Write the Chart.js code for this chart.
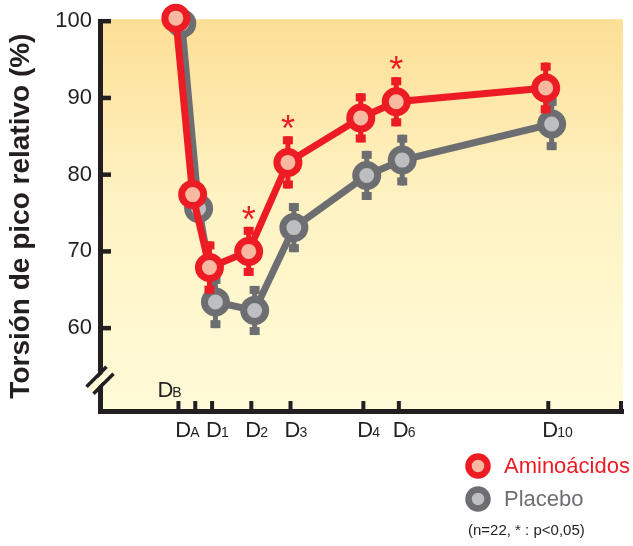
<!DOCTYPE html>
<html>
<head>
<meta charset="utf-8">
<script src="https://cdn.jsdelivr.net/npm/chart.js@4/dist/chart.umd.min.js"></script>
<style>
  html, body { margin: 0; padding: 0; background: #fff; }
  #wrap { width: 633px; height: 546px; }
</style>
</head>
<body>
<div id="wrap"><canvas id="out" width="633" height="546"></canvas></div>
<script>
// days on the x axis (schematic positions) and their labels
const dayMain = "D";
const daySub = ["B", "A", "1", "2", "3", "4", "6", "10"];
const xPos = [2.1, 2.55, 3, 4.05, 5.1, 7.05, 8, 12];

// peak torque relative to baseline (%)
const amino = [100.4, 77.4, 67.9, 70.0, 81.6, 87.4, 89.5, 91.3];
const aminoErr = [0, 1.5, 3.4, 3.2, 3.4, 3.2, 3.2, 3.3];
const placebo = [99.7, 75.6, 63.4, 62.3, 73.1, 79.9, 81.9, 86.6];
const placeboErr = [0, 1.5, 3.4, 3.2, 3.2, 3.2, 3.3, 3.4];
const significant = [false, false, false, true, true, false, true, false];

const yTicks = [60, 70, 80, 90, 100];
const seriesNames = ["Aminoácidos", "Placebo"];
const footnote = "(n=22, * : p<0,05)";

const RED = "#ed1c24", SALMON = "#f8b9a0";
const GREY = "#6d6e71", LIGHTGREY = "#bcbec0";
const INK = "#231f20";
const FONT = "'Liberation Sans', Arial, Helvetica, sans-serif";

const toPoints = (vals, shift) => vals.map((v, i) => ({ x: xPos[i] + shift, y: v }));

// background gradient in the plot area
const bgPlugin = {
  id: "bg",
  beforeDraw(chart) {
    const { ctx, chartArea: a } = chart;
    const g = ctx.createLinearGradient(0, a.top, 0, a.bottom);
    g.addColorStop(0, "#fddf96");
    g.addColorStop(0.45, "#fef2c2");
    g.addColorStop(1, "#fffbd8");
    ctx.save();
    ctx.fillStyle = g;
    ctx.fillRect(a.left, a.top - 2, a.right - a.left, a.bottom - a.top + 2);
    ctx.restore();
  }
};

// error bars, drawn under each dataset's own line
const errPlugin = {
  id: "errbars",
  beforeDatasetDraw(chart, args) {
    const ds = chart.data.datasets[args.index];
    const meta = args.meta;
    const ys = chart.scales.y;
    const ctx = chart.ctx;
    ctx.save();
    ctx.strokeStyle = ds.borderColor;
    ctx.fillStyle = ds.borderColor;
    ctx.lineWidth = 5;
    meta.data.forEach((pt, i) => {
      const e = ds.err[i];
      if (!e) return;
      const v = ds.data[i].y;
      const top = ys.getPixelForValue(v + e);
      const bot = ys.getPixelForValue(v - e);
      ctx.beginPath();
      ctx.moveTo(pt.x, top);
      ctx.lineTo(pt.x, bot);
      ctx.stroke();
      ctx.fillRect(pt.x - 5, top, 10, 8);
      ctx.fillRect(pt.x - 5, bot - 8, 10, 8);
    });
    ctx.restore();
  }
};

// ticks, labels, axis break, asterisks, legend
const decoPlugin = {
  id: "deco",
  afterDraw(chart) {
    const { ctx, chartArea: a } = chart;
    const xs = chart.scales.x, ys = chart.scales.y;
    ctx.save();
    ctx.fillStyle = INK;
    ctx.strokeStyle = INK;

    // inward y ticks
    ctx.lineWidth = 4.5;
    yTicks.forEach(t => {
      const y = ys.getPixelForValue(t);
      ctx.beginPath();
      ctx.moveTo(a.left, y);
      ctx.lineTo(a.left + 11, y);
      ctx.stroke();
    });

    // inward x ticks + right end tick
    ctx.lineWidth = 4;
    const xt = xPos.map(p => xs.getPixelForValue(p)).concat([a.right - 2]);
    xt.forEach(x => {
      ctx.beginPath();
      ctx.moveTo(x, a.bottom);
      ctx.lineTo(x, a.bottom - 10);
      ctx.stroke();
    });

    // x labels "D" + small suffix
    ctx.textBaseline = "alphabetic";
    ctx.textAlign = "left";
    daySub.forEach((s, i) => {
      const tx = xs.getPixelForValue(xPos[i]);
      let lx = tx - 6, ly = a.bottom + 26;
      if (i === 0) { lx = tx - 21; ly = a.bottom - 14; }
      if (i === 1) { lx = tx - 20; }
      ctx.font = "22px " + FONT;
      ctx.fillText(dayMain, lx, ly);
      const w = ctx.measureText(dayMain).width;
      ctx.font = "14px " + FONT;
      ctx.fillText(s, lx + w - 1, ly);
    });

    // axis break
    const by = ys.getPixelForValue(53.2);
    const bx = a.left;
    const seg = (off, color, lw) => {
      ctx.strokeStyle = color;
      ctx.lineWidth = lw;
      ctx.beginPath();
      ctx.moveTo(bx - 10 + off, by + 10 + off);
      ctx.lineTo(bx + 10 + off, by - 10 + off);
      ctx.stroke();
    };
    seg(0, "#fffbd8", 6);
    seg(-3.5, INK, 3.5);
    seg(3.5, INK, 3.5);

    // significance asterisks
    ctx.fillStyle = RED;
    ctx.font = "36px " + FONT;
    ctx.textAlign = "center";
    const am = chart.getDatasetMeta(0);
    significant.forEach((s, i) => {
      if (!s) return;
      const yTop = ys.getPixelForValue(amino[i] + aminoErr[i]);
      ctx.fillText("*", am.data[i].x, yTop + 5);
    });

    // legend
    const items = [
      { name: seriesNames[0], line: RED, fill: SALMON, y: 466 },
      { name: seriesNames[1], line: GREY, fill: LIGHTGREY, y: 499 }
    ];
    ctx.textAlign = "left";
    ctx.textBaseline = "middle";
    items.forEach(it => {
      ctx.beginPath();
      ctx.arc(478, it.y, 9.5, 0, Math.PI * 2);
      ctx.fillStyle = it.fill;
      ctx.fill();
      ctx.lineWidth = 6.5;
      ctx.strokeStyle = it.line;
      ctx.stroke();
      ctx.fillStyle = it.line;
      ctx.font = "22px " + FONT;
      ctx.fillText(it.name, 504, it.y + 1);
    });
    ctx.fillStyle = INK;
    ctx.font = "15px " + FONT;
    ctx.fillText(footnote, 468, 531);
    ctx.restore();
  }
};

const canvasCtx = document.getElementById("out").getContext("2d");

const chartConfig = {
  type: "line",
  data: {
    datasets: [
      {
        label: seriesNames[0],
        data: toPoints(amino, -0.07),
        err: aminoErr,
        borderColor: RED,
        backgroundColor: SALMON,
        pointBackgroundColor: SALMON,
        pointBorderColor: RED,
        borderWidth: 7,
        pointRadius: 11,
        pointBorderWidth: 7,
        clip: false
      },
      {
        label: seriesNames[1],
        data: toPoints(placebo, 0.09),
        err: placeboErr,
        borderColor: GREY,
        backgroundColor: LIGHTGREY,
        pointBackgroundColor: LIGHTGREY,
        pointBorderColor: GREY,
        borderWidth: 7,
        pointRadius: 11,
        pointBorderWidth: 7,
        clip: false
      }
    ]
  },
  options: {
    responsive: false,
    animation: false,
    events: [],
    layout: { autoPadding: false, padding: { top: 20, right: 10, bottom: 135, left: 0 } },
    plugins: { legend: { display: false }, tooltip: { enabled: false } },
    scales: {
      x: {
        type: "linear",
        min: 0,
        max: 14,
        grid: { display: false, drawTicks: false },
        ticks: { display: false },
        border: { display: true, width: 5, color: INK },
        afterFit(scale) { scale.height = 0; }
      },
      y: {
        min: 49.2,
        max: 100,
        afterBuildTicks(scale) { scale.ticks = yTicks.map(v => ({ value: v })); },
        grid: { display: false, drawTicks: false },
        border: { display: true, width: 5, color: INK },
        ticks: {
          color: INK,
          padding: 8,
          font: { family: FONT, size: 22 }
        },
        title: {
          display: true,
          text: "Torsión de pico relativo (%)",
          color: INK,
          font: { family: FONT, size: 28, weight: "bold" },
          padding: { top: 4, bottom: 0 }
        },
        afterFit(scale) { scale.width = 100; }
      }
    }
  },
  plugins: [bgPlugin, errPlugin, decoPlugin]
};

window.chart = new Chart(canvasCtx, chartConfig);
</script>
</body>
</html>
